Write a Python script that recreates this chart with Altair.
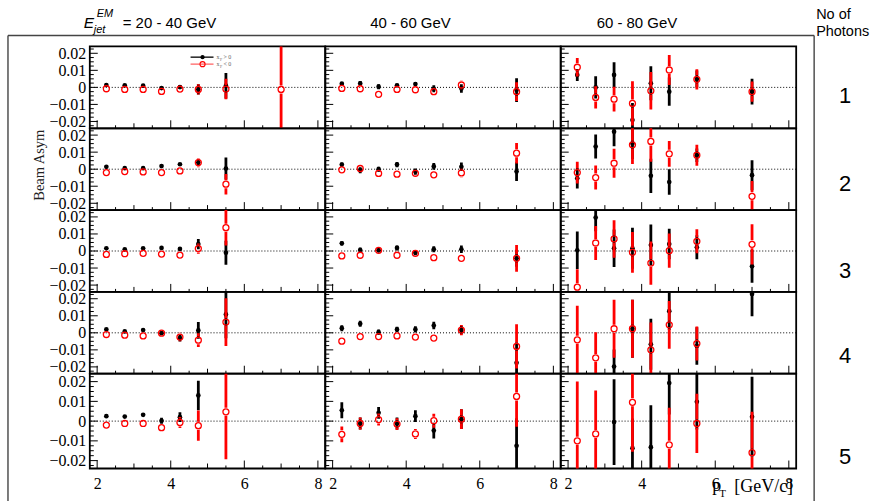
import altair as alt
import pandas as pd

# ---------------------------------------------------------------------------
# Beam asymmetry vs pT, split by jet EM energy (columns) and photon count (rows)
# Asymmetry values and errors are stored in units of 1e-3; None = no point.
# Bin order follows PT_BINS.
# ---------------------------------------------------------------------------
PT_BINS = [2.25, 2.75, 3.25, 3.75, 4.25, 4.75, 5.5, 7.0]
ENERGY_LABELS = ["= 20 - 40 GeV", "40 - 60 GeV", "60 - 80 GeV"]
PHOTON_LABELS = ["1", "2", "3", "4", "5"]
ASYM_UNIT = 1e-3

# 1 photon
pos_n1_e1 = [1.4, 1.2, 1.0, -0.4, 0.2, -1.2, 1.0, None]
pos_err_n1_e1 = [0.5, 0.5, 0.5, 0.5, 1.0, 3.0, 7.5, None]
neg_n1_e1 = [-0.8, -1.2, -1.2, -2.4, -1.0, -1.2, -1.0, -1.2]
neg_err_n1_e1 = [0.5, 0.5, 0.5, 0.6, 1.2, 3.0, 6.0, 40.0]
pos_n1_e2 = [2.2, 2.3, 0.4, 1.2, 2.0, -0.8, -0.6, -1.6]
pos_err_n1_e2 = [0.8, 1.5, 1.5, 1.0, 1.2, 2.0, 2.5, 7.0]
neg_n1_e2 = [-0.6, -0.8, -4.1, -1.2, -1.4, -2.5, 1.4, -2.5]
neg_err_n1_e2 = [0.8, 1.5, 1.2, 1.0, 1.2, 2.0, 2.5, 5.5]
pos_n1_e3 = [7.3, 0.0, 7.3, -19.2, 2.4, -2.5, 4.9, -2.5]
pos_err_n1_e3 = [3.5, 6.5, 7.4, 10.0, 10.0, 8.3, 5.0, 7.5]
neg_n1_e3 = [11.8, -5.9, -6.9, -9.4, -2.0, 10.2, 4.7, -2.5]
neg_err_n1_e3 = [5.4, 6.5, 7.2, 13.0, 11.0, 8.8, 6.0, 6.0]

# 2 photons
pos_n2_e1 = [1.4, 0.6, 0.6, 1.8, 2.9, 3.9, 0.4, None]
pos_err_n2_e1 = [0.5, 0.5, 0.5, 0.5, 0.6, 2.0, 6.5, None]
neg_n2_e1 = [-2.0, -1.4, -1.6, -2.0, -1.0, 3.9, -8.8, None]
neg_err_n2_e1 = [0.5, 0.5, 0.5, 0.5, 0.6, 2.7, 6.0, None]
pos_n2_e2 = [2.7, -0.6, 0.0, 2.7, -1.4, 1.6, 1.4, -1.4]
pos_err_n2_e2 = [1.2, 1.8, 1.5, 1.5, 1.8, 2.0, 2.5, 5.5]
neg_n2_e2 = [-0.4, 0.4, -2.5, -2.9, -2.4, -3.3, -2.2, 9.4]
neg_err_n2_e2 = [1.2, 1.8, 1.5, 1.5, 1.8, 2.0, 2.5, 6.0]
pos_n2_e3 = [-5.3, 13.3, 22.0, 15.0, -3.9, -7.5, 8.2, -3.5]
pos_err_n2_e3 = [6.0, 7.0, 8.5, 9.0, 10.0, 7.5, 4.0, 8.8]
neg_n2_e3 = [-2.0, -4.9, 3.5, 14.3, 16.3, 9.0, 8.2, -15.9]
neg_err_n2_e3 = [6.4, 7.0, 8.5, 11.3, 12.0, 7.5, 6.2, 9.0]

# 3 photons
pos_n3_e1 = [1.6, 1.0, 1.6, 1.8, 1.2, 4.1, -1.0, None]
pos_err_n3_e1 = [0.5, 0.5, 0.5, 0.5, 0.6, 3.0, 7.0, None]
neg_n3_e1 = [-2.0, -1.6, -1.4, -1.8, -2.4, 1.4, 13.7, None]
neg_err_n3_e1 = [0.5, 0.5, 0.5, 0.5, 0.6, 3.0, 10.5, None]
pos_n3_e2 = [4.5, 0.6, 0.4, 1.8, -1.0, 1.0, 1.0, -4.3]
pos_err_n3_e2 = [1.2, 1.5, 1.2, 1.5, 1.5, 1.8, 2.2, 5.0]
neg_n3_e2 = [-2.9, -2.5, 0.4, -2.5, -1.4, -3.9, -4.3, -4.3]
neg_err_n3_e2 = [1.2, 1.5, 1.2, 1.5, 1.5, 1.8, 2.2, 7.8]
pos_n3_e3 = [0.4, 19.6, 1.6, 1.6, 3.5, 4.1, 2.2, -9.0]
pos_err_n3_e3 = [11.0, 8.0, 11.0, 12.0, 12.0, 9.0, 7.0, 9.6]
neg_n3_e3 = [-21.2, 4.7, 7.1, -0.8, -7.1, 0.2, 5.7, 3.9]
neg_err_n3_e3 = [10.5, 10.0, 11.0, 12.0, 12.7, 10.0, 7.0, 11.8]

# 4 photons
pos_n4_e1 = [2.0, 0.8, 1.6, -0.2, -3.1, 1.4, 10.8, None]
pos_err_n4_e1 = [0.6, 0.6, 0.6, 0.8, 2.0, 4.9, 14.0, None]
neg_n4_e1 = [-1.0, -1.4, -1.8, -0.2, -2.5, -4.3, 6.3, None]
neg_err_n4_e1 = [0.6, 0.6, 0.6, 0.8, 2.5, 4.0, 14.0, None]
pos_n4_e2 = [2.7, 5.3, 0.4, 2.0, 2.0, 4.3, 1.6, -17.6]
pos_err_n4_e2 = [1.8, 1.8, 1.5, 1.5, 1.8, 2.2, 2.5, 12.0]
neg_n4_e2 = [-4.9, -2.2, -2.2, -1.8, -2.5, -3.1, 1.6, -8.0]
neg_err_n4_e2 = [1.8, 1.8, 1.5, 1.5, 1.8, 2.2, 3.0, 13.0]
pos_n4_e3 = [None, None, -19.8, 2.4, -6.7, 12.7, -7.8, 22.7]
pos_err_n4_e3 = [None, None, 10.0, 17.0, 15.0, 11.0, 11.0, 13.0]
neg_n4_e3 = [-4.1, -14.7, 2.4, 2.4, -10.0, 4.7, -6.3, None]
neg_err_n4_e3 = [20.0, 15.0, 17.0, 17.0, 16.0, 14.0, 10.0, None]

# 5 photons
pos_n5_e1 = [2.5, 2.3, 3.2, 0.2, 2.0, 13.0, None, None]
pos_err_n5_e1 = [0.6, 0.6, 0.6, 1.5, 2.5, 7.5, None, None]
neg_n5_e1 = [-2.0, -1.2, -1.2, -3.3, -0.7, -2.3, 4.7, None]
neg_err_n5_e1 = [0.6, 0.6, 0.6, 1.2, 2.8, 7.7, 24.0, None]
pos_n5_e2 = [5.5, -1.2, 4.2, -1.2, 2.5, -4.8, 1.0, -12.5]
pos_err_n5_e2 = [4.0, 3.0, 3.0, 3.0, 3.0, 4.0, 5.0, 14.0]
neg_n5_e2 = [-6.7, -1.2, 0.8, -1.5, -6.5, 0.2, 1.0, 12.5]
neg_err_n5_e2 = [4.0, 3.0, 3.0, 3.0, 2.5, 3.5, 5.0, 15.3]
pos_n5_e3 = [None, None, -0.5, -13.7, -13.2, 19.3, 9.8, 2.2]
pos_err_n5_e3 = [None, None, 21.7, 15.0, 21.2, 16.0, 14.0, 20.3]
neg_n5_e3 = [-10.0, -6.5, None, 9.5, None, -12.0, -1.2, -16.0]
neg_err_n5_e3 = [30.0, 22.0, None, 25.0, None, 18.8, 15.0, 20.7]

SERIES = {
    (1, 1): (pos_n1_e1, pos_err_n1_e1, neg_n1_e1, neg_err_n1_e1),
    (1, 2): (pos_n1_e2, pos_err_n1_e2, neg_n1_e2, neg_err_n1_e2),
    (1, 3): (pos_n1_e3, pos_err_n1_e3, neg_n1_e3, neg_err_n1_e3),
    (2, 1): (pos_n2_e1, pos_err_n2_e1, neg_n2_e1, neg_err_n2_e1),
    (2, 2): (pos_n2_e2, pos_err_n2_e2, neg_n2_e2, neg_err_n2_e2),
    (2, 3): (pos_n2_e3, pos_err_n2_e3, neg_n2_e3, neg_err_n2_e3),
    (3, 1): (pos_n3_e1, pos_err_n3_e1, neg_n3_e1, neg_err_n3_e1),
    (3, 2): (pos_n3_e2, pos_err_n3_e2, neg_n3_e2, neg_err_n3_e2),
    (3, 3): (pos_n3_e3, pos_err_n3_e3, neg_n3_e3, neg_err_n3_e3),
    (4, 1): (pos_n4_e1, pos_err_n4_e1, neg_n4_e1, neg_err_n4_e1),
    (4, 2): (pos_n4_e2, pos_err_n4_e2, neg_n4_e2, neg_err_n4_e2),
    (4, 3): (pos_n4_e3, pos_err_n4_e3, neg_n4_e3, neg_err_n4_e3),
    (5, 1): (pos_n5_e1, pos_err_n5_e1, neg_n5_e1, neg_err_n5_e1),
    (5, 2): (pos_n5_e2, pos_err_n5_e2, neg_n5_e2, neg_err_n5_e2),
    (5, 3): (pos_n5_e3, pos_err_n5_e3, neg_n5_e3, neg_err_n5_e3),
}

# axis ticks (ROOT-style, drawn inside the frame)
Y_LABELS = [-0.02, -0.01, 0.0, 0.01, 0.02]
Y_MINOR = [-0.0225, -0.0175, -0.015, -0.0125, -0.0075, -0.005, -0.0025,
           0.0025, 0.005, 0.0075, 0.0125, 0.015, 0.0175, 0.0225]
X_LABELS = [2, 4, 6, 8]
X_MID = [3, 5, 7]
X_MINOR = [2.5, 3.5, 4.5, 5.5, 6.5, 7.5]

X_DOMAIN = [1.8, 8.2]
Y_DOMAIN = [-0.024, 0.024]
PANEL_W = 236
ROW_H = 82
LAST_ROW_H = 95
MARKER_GAP_PX = 4.0

SANS = "Liberation Sans"
SERIF = "Liberation Serif"
RED = "#ff0000"

x_scale = alt.Scale(domain=X_DOMAIN, nice=False, zero=False)
y_scale = alt.Scale(domain=Y_DOMAIN, nice=False, zero=False)


def tick_frame(values):
    return pd.DataFrame({"v": values})


def overlays_for_corner():
    """Titles, labels, legend and outer frame, placed relative to the top-left panel."""
    one = pd.DataFrame({"k": [0]})
    layers = []

    def text(s, x, y, size, font=SANS, style="normal", align="left",
             baseline="alphabetic", angle=0, color="black"):
        kw = dict(text=s, font=font, fontSize=size, fontStyle=style, align=align,
                  baseline=baseline, color=color)
        if angle:
            kw["angle"] = angle
        return alt.Chart(one).mark_text(**kw).encode(x=alt.value(x), y=alt.value(y))

    def line(x, x2, y, y2, color, width):
        return alt.Chart(one).mark_rule(color=color, strokeWidth=width).encode(
            x=alt.value(x), x2=alt.value(x2), y=alt.value(y), y2=alt.value(y2))

    # page extent
    layers.append(alt.Chart(one).mark_rect(opacity=0).encode(
        x=alt.value(-89), x2=alt.value(786), y=alt.value(-45), y2=alt.value(456)))

    # outer frame
    layers.append(line(-82, 726, -11, -11, "#444", 1.4))
    layers.append(line(-82, -82, -11, 456, "#444", 1.4))
    layers.append(line(726, 726, -11, 456, "#444", 1.4))

    # column headers
    layers.append(text("E", -6, -19, 15.5, style="italic"))
    layers.append(text("jet", 4, -14, 11, style="italic"))
    layers.append(text("EM", 7, -30, 11, style="italic"))
    layers.append(text(ENERGY_LABELS[0], 33, -19, 15))
    layers.append(text(ENERGY_LABELS[1], 281, -19, 15))
    layers.append(text(ENERGY_LABELS[2], 508, -19, 15))

    # row headers
    layers.append(text("No of", 728, -28, 14.5))
    layers.append(text("Photons", 728, -10, 14.5))
    for label, yc in zip(PHOTON_LABELS, [50, 138, 225, 310, 411]):
        layers.append(text(label, 757, yc, 22, align="center", baseline="middle"))

    # axis titles
    layers.append(text("Beam Asym", -50, 119, 14.5, font=SERIF, align="center",
                       baseline="middle", angle=270, color="#222"))
    layers.append(text("p", 624, 446, 18, font=SERIF))
    layers.append(text("T", 631, 452, 11, font=SERIF))
    layers.append(text("[GeV/c]", 646, 447, 18, font=SERIF))

    # legend
    layers.append(line(101, 124, 10.7, 10.7, "black", 1.3))
    layers.append(line(101, 124, 17.7, 17.7, "#ff6666", 1.3))
    layers.append(alt.Chart(one).mark_point(shape="circle", filled=True, size=18,
                                            color="black", opacity=1).encode(
        x=alt.value(113), y=alt.value(10.7)))
    layers.append(alt.Chart(one).mark_point(shape="circle", filled=False, size=26,
                                            color=RED, strokeWidth=1.1, opacity=1).encode(
        x=alt.value(113), y=alt.value(17.7)))
    for yb, sign in [(12.8, "> 0"), (19.8, "< 0")]:
        layers.append(text("x", 127, yb, 6, font=SERIF, color="#666"))
        layers.append(text("F", 130.5, yb + 1.5, 4, font=SERIF, color="#666"))
        layers.append(text(sign, 134, yb, 6, font=SERIF, color="#666"))
    return layers


def panel(row, col):
    h = LAST_ROW_H if row == 5 else ROW_H
    pos, pos_err, neg, neg_err = SERIES[(row, col)]
    gap = MARKER_GAP_PX * (Y_DOMAIN[1] - Y_DOMAIN[0]) / h

    black = [dict(pt=p, y=v * ASYM_UNIT, lo=(v - e) * ASYM_UNIT, hi=(v + e) * ASYM_UNIT)
             for p, v, e in zip(PT_BINS, pos, pos_err) if v is not None]
    red_pts, red_bars = [], []
    for p, v, e in zip(PT_BINS, neg, neg_err):
        if v is None:
            continue
        red_pts.append(dict(pt=p, y=v * ASYM_UNIT))
        if e * ASYM_UNIT > gap:
            red_bars.append(dict(pt=p, lo=(v - e) * ASYM_UNIT, hi=v * ASYM_UNIT - gap))
            red_bars.append(dict(pt=p, lo=v * ASYM_UNIT + gap, hi=(v + e) * ASYM_UNIT))

    black_df = pd.DataFrame(black, columns=["pt", "y", "lo", "hi"])
    red_pts_df = pd.DataFrame(red_pts, columns=["pt", "y"])
    red_bars_df = pd.DataFrame(red_bars, columns=["pt", "lo", "hi"])

    if row == 5:
        x_axis = alt.Axis(values=X_LABELS, ticks=False, tickSize=0, domain=False,
                          grid=False, labelPadding=7, labelFont=SERIF,
                          labelFontSize=16, labelColor="black", labelFlush=False,
                          labelOverlap=False)
    else:
        x_axis = None
    if col == 1:
        y_axis = alt.Axis(values=Y_LABELS, ticks=False, tickSize=0, domain=False,
                          grid=False, labelPadding=4, labelFont=SERIF,
                          labelFontSize=16, labelColor="black", labelFlush=False,
                          labelOverlap=False, labelExpr="format(datum.value, '.2~f')")
    else:
        y_axis = None

    def X(field):
        return alt.X(field, type="quantitative", scale=x_scale, axis=x_axis, title=None)

    def Y(field):
        return alt.Y(field, type="quantitative", scale=y_scale, axis=y_axis, title=None)

    layers = [
        alt.Chart(tick_frame([0.0])).mark_rule(
            color="black", strokeWidth=1, strokeDash=[1, 2]).encode(y=Y("v")),
        alt.Chart(tick_frame(Y_LABELS)).mark_rule(color="black", strokeWidth=1).encode(
            y=Y("v"), x=alt.value(0), x2=alt.value(8)),
        alt.Chart(tick_frame(Y_MINOR)).mark_rule(color="black", strokeWidth=1).encode(
            y=Y("v"), x=alt.value(0), x2=alt.value(4)),
        alt.Chart(tick_frame(X_LABELS)).mark_rule(color="black", strokeWidth=1).encode(
            x=X("v"), y=alt.value(h), y2=alt.value(h - 8)),
        alt.Chart(tick_frame(X_MID)).mark_rule(color="black", strokeWidth=1).encode(
            x=X("v"), y=alt.value(h), y2=alt.value(h - 5)),
        alt.Chart(tick_frame(X_MINOR)).mark_rule(color="black", strokeWidth=1).encode(
            x=X("v"), y=alt.value(h), y2=alt.value(h - 3)),
        # x_F > 0
        alt.Chart(black_df).mark_rule(color="black", strokeWidth=2.8, clip=True).encode(
            x=X("pt"), y=Y("lo"), y2=alt.Y2("hi")),
        alt.Chart(black_df).mark_point(shape="circle", filled=True, size=22,
                                       color="black", opacity=1, clip=True).encode(
            x=X("pt"), y=Y("y")),
        # x_F < 0
        alt.Chart(red_bars_df).mark_rule(color=RED, strokeWidth=2.8, clip=True).encode(
            x=X("pt"), y=Y("lo"), y2=alt.Y2("hi")),
        alt.Chart(red_pts_df).mark_point(shape="circle", filled=False, size=36,
                                         color=RED, strokeWidth=1.3, opacity=1,
                                         clip=True).encode(
            x=X("pt"), y=Y("y")),
    ]
    if row == 1 and col == 1:
        layers += overlays_for_corner()
    return alt.layer(*layers).properties(width=PANEL_W, height=h)


panels = [panel(r, c) for r in range(1, 6) for c in range(1, 4)]

chart = (
    alt.concat(*panels, columns=3, spacing=0, bounds="flush", align="each")
    .properties(padding=0, background="white")
    .configure_view(stroke="black", strokeWidth=1.8)
    .configure_axis(grid=False)
)

chart.save("out.html", embed_options={"renderer": "svg", "actions": False})
